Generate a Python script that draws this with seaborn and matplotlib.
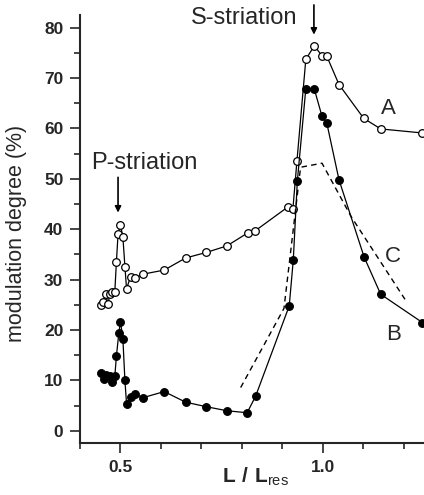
import numpy as np
import pandas as pd
import matplotlib
matplotlib.use('Agg')
import matplotlib.pyplot as plt
import seaborn as sns

# curve A (open circles)
a_x = [0.453, 0.458, 0.464, 0.469, 0.474, 0.480, 0.486, 0.490, 0.494, 0.500,
       0.506, 0.511, 0.515, 0.525, 0.536, 0.556, 0.608, 0.661, 0.712, 0.763,
       0.815, 0.833, 0.915, 0.926, 0.936, 0.958, 0.979, 0.998, 1.010, 1.040,
       1.101, 1.143, 1.246]
a_y = [24.9, 25.6, 27.1, 25.2, 27.1, 27.5, 27.6, 33.6, 39.0, 40.9,
       38.4, 32.6, 28.2, 30.6, 30.3, 31.1, 31.9, 34.3, 35.4, 36.7,
       39.3, 39.7, 44.5, 44.0, 53.5, 73.7, 76.4, 74.4, 74.3, 68.7,
       62.0, 59.9, 59.1]

# curve B (filled circles)
b_x = [0.453, 0.459, 0.465, 0.474, 0.480, 0.486, 0.490, 0.496, 0.500, 0.506,
       0.511, 0.515, 0.525, 0.535, 0.556, 0.608, 0.661, 0.712, 0.763, 0.813,
       0.834, 0.917, 0.927, 0.937, 0.958, 0.979, 0.998, 1.010, 1.040, 1.102,
       1.143, 1.246]
b_y = [11.4, 10.3, 11.0, 10.8, 9.7, 10.8, 14.9, 19.4, 21.7, 18.2,
       10.0, 5.4, 6.8, 7.3, 6.6, 7.8, 5.7, 4.8, 4.0, 3.6,
       6.9, 24.8, 33.9, 49.5, 67.9, 67.8, 62.4, 61.0, 49.8, 34.5,
       27.1, 21.5]

# curve C (dashed, no markers)
c_x = [0.797, 0.904, 0.945, 0.998, 1.070, 1.203]
c_y = [8.6, 24.3, 52.3, 53.1, 42.5, 26.1]

x_major = [0.5, 1.0]
x_major_labels = ['0.5', '1.0']
x_minor = [0.4, 0.6, 0.7, 0.8, 0.9, 1.1, 1.2]

sns.set_style('ticks')
plt.rcParams['font.family'] = ['Liberation Sans', 'DejaVu Sans']
plt.rcParams['mathtext.fontset'] = 'custom'
plt.rcParams['mathtext.rm'] = 'Liberation Sans'
plt.rcParams['mathtext.bf'] = 'Liberation Sans:bold'

fig = plt.figure(figsize=(4.24, 4.95), dpi=100)
ax = fig.add_axes([80 / 424, 52 / 495, 344 / 424, 428 / 495])

sns.lineplot(x=a_x, y=a_y, sort=False, estimator=None, ax=ax, color='black',
             lw=0.9, marker='o', markersize=5.5, markerfacecolor='white',
             markeredgecolor='black', markeredgewidth=0.9, clip_on=False)
sns.lineplot(x=b_x, y=b_y, sort=False, estimator=None, ax=ax, color='black',
             lw=0.9, marker='o', markersize=5.5, markerfacecolor='black',
             markeredgecolor='black', markeredgewidth=0.9, clip_on=False)
sns.lineplot(x=c_x, y=c_y, sort=False, estimator=None, ax=ax, color='black',
             lw=1.0, dashes=False, linestyle=(0, (4, 3)))

ax.set_xlim(0.4, 1.250)
ax.set_ylim(-2.4, 82.5)

ax.set_xticks(x_major)
ax.set_xticklabels(x_major_labels, fontsize=12.5, fontweight='bold')
ax.set_xticks(x_minor, minor=True)
ax.set_yticks(np.arange(0, 81, 10))
ax.set_yticklabels([str(v) for v in range(0, 81, 10)], fontsize=12.5, fontweight='bold')
ax.set_yticks(np.arange(5, 80, 10), minor=True)

ax.tick_params(which='major', length=7, width=1.2, direction='out', pad=5)
ax.tick_params(which='minor', length=4.5, width=1.2, direction='out')
for s in ['top', 'right']:
    ax.spines[s].set_visible(False)
for s in ['left', 'bottom']:
    ax.spines[s].set_linewidth(1.5)

ax.set_ylabel('modulation degree (%)', fontsize=15.5)
ax.yaxis.set_label_coords(-0.153, 0.49)
# x label sits level with the tick labels, between 0.5 and 1.0
ax.set_xlabel(r'$\mathbf{L\ /\ L}_{\mathrm{res}}$', fontsize=15)
ax.xaxis.set_label_coords(0.51, -0.052)

# annotations
ax.text(0.428, 53.2, 'P-striation', fontsize=17, ha='left', va='center')
ax.annotate('', xy=(0.494, 43.3), xytext=(0.494, 50.3),
            arrowprops=dict(arrowstyle='-|>', color='black', lw=1.2,
                            mutation_scale=9, shrinkA=0, shrinkB=0))
ax.text(0.674, 82.0, 'S-striation', fontsize=17, ha='left', va='center')
ax.annotate('', xy=(0.978, 78.6), xytext=(0.978, 84.5),
            arrowprops=dict(arrowstyle='-|>', color='black', lw=1.2,
                            mutation_scale=9, shrinkA=0, shrinkB=0),
            annotation_clip=False)

ax.text(1.163, 63.9, 'A', fontsize=16, ha='center', va='center')
ax.text(1.175, 19.2, 'B', fontsize=16, ha='center', va='center')
ax.text(1.173, 34.6, 'C', fontsize=16, ha='center', va='center')

fig.savefig('out.png', dpi=100)
